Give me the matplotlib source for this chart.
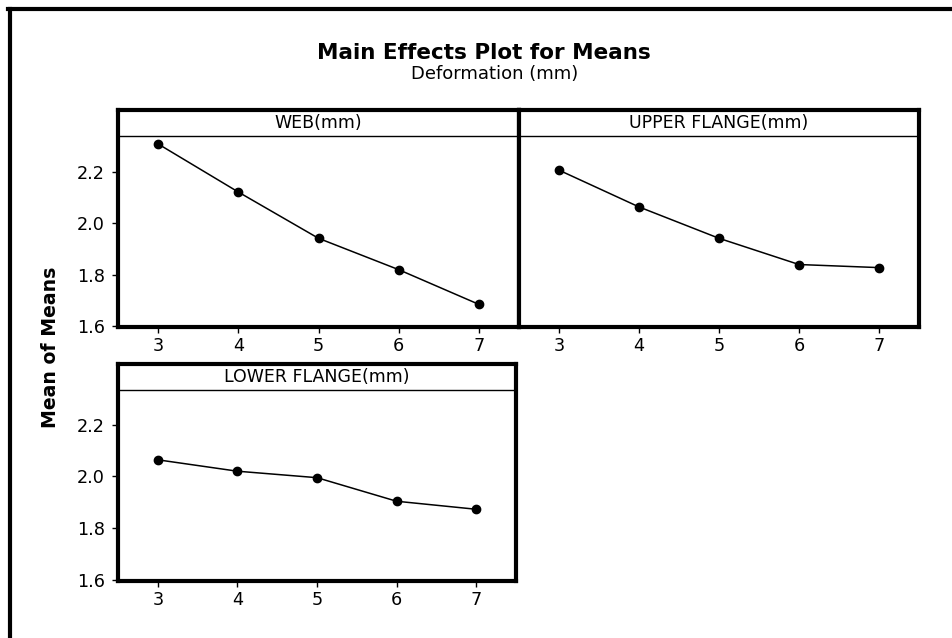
"""Main effects plot for means, deformation (mm)"""

import matplotlib
matplotlib.use("Agg")
import matplotlib.pyplot as plt
from matplotlib.lines import Line2D

# levels of every factor
levels = [3, 4, 5, 6, 7]

# mean of means per factor level
web_means = [2.308, 2.121, 1.941, 1.819, 1.684]
upper_flange_means = [2.206, 2.063, 1.941, 1.839, 1.827]
lower_flange_means = [2.064, 2.020, 1.995, 1.904, 1.873]

factor_names = ["WEB(mm)", "UPPER FLANGE(mm)", "LOWER FLANGE(mm)"]
y_ticks = [1.6, 1.8, 2.0, 2.2]
y_tick_labels = ["1.6", "1.8", "2.0", "2.2"]

plt.rcParams["font.family"] = ["DejaVu Sans"]

W, H = 953, 638
fig = plt.figure(figsize=(W / 100, H / 100), dpi=100)


def fig_rect(left, top, right, bottom):
    """pixel box -> figure fraction rect"""
    return [left / W, 1 - bottom / H, (right - left) / W, (bottom - top) / H]


# outer frame, only left and top visible
fig.add_artist(Line2D([10 / W, 10 / W], [0, 1 - 8.5 / H], color="black", lw=3, transform=fig.transFigure))
fig.add_artist(Line2D([8.5 / W, 1], [1 - 8.5 / H, 1 - 8.5 / H], color="black", lw=3, transform=fig.transFigure))

panels = [
    (factor_names[0], web_means, fig_rect(118, 110, 519, 327), (1.596, 2.440), 2.337, True),
    (factor_names[1], upper_flange_means, fig_rect(519, 110, 919, 327), (1.596, 2.440), 2.337, False),
    (factor_names[2], lower_flange_means, fig_rect(118, 364, 516, 581), (1.596, 2.434), 2.334, True),
]

for name, means, rect, ylim, strip_y, show_y in panels:
    ax = fig.add_axes(rect)
    ax.plot(levels, means, color="black", lw=1.1, marker="o", markersize=6, zorder=3)
    ax.set_xlim(2.5, 7.5)
    ax.set_ylim(*ylim)
    ax.set_xticks(levels)
    ax.set_xticklabels([str(v) for v in levels])
    if show_y:
        ax.set_yticks(y_ticks)
        ax.set_yticklabels(y_tick_labels)
    else:
        ax.set_yticks([])
    ax.tick_params(direction="out", length=4.5, width=1, labelsize=12.7)
    ax.tick_params(axis="y", pad=5)
    ax.tick_params(axis="x", pad=3)
    for spine in ax.spines.values():
        spine.set_linewidth(3)
    # strip with the factor name
    ax.axhline(strip_y, color="black", lw=1)
    ax.text(0.5, (1 + (strip_y - ylim[0]) / (ylim[1] - ylim[0])) / 2, name,
            transform=ax.transAxes, ha="center", va="center", fontsize=12.5)

fig.text(484 / W, 1 - 53 / H, "Main Effects Plot for Means", ha="center", va="center",
         fontsize=15.5, fontweight="bold")
fig.text(495 / W, 1 - 74 / H, "Deformation (mm)", ha="center", va="center", fontsize=13)
fig.text(51 / W, 1 - 347 / H, "Mean of Means", ha="center", va="center", rotation=90,
         fontsize=13.6, fontweight="bold")

fig.savefig("out.png", dpi=100)
plt.close(fig)
